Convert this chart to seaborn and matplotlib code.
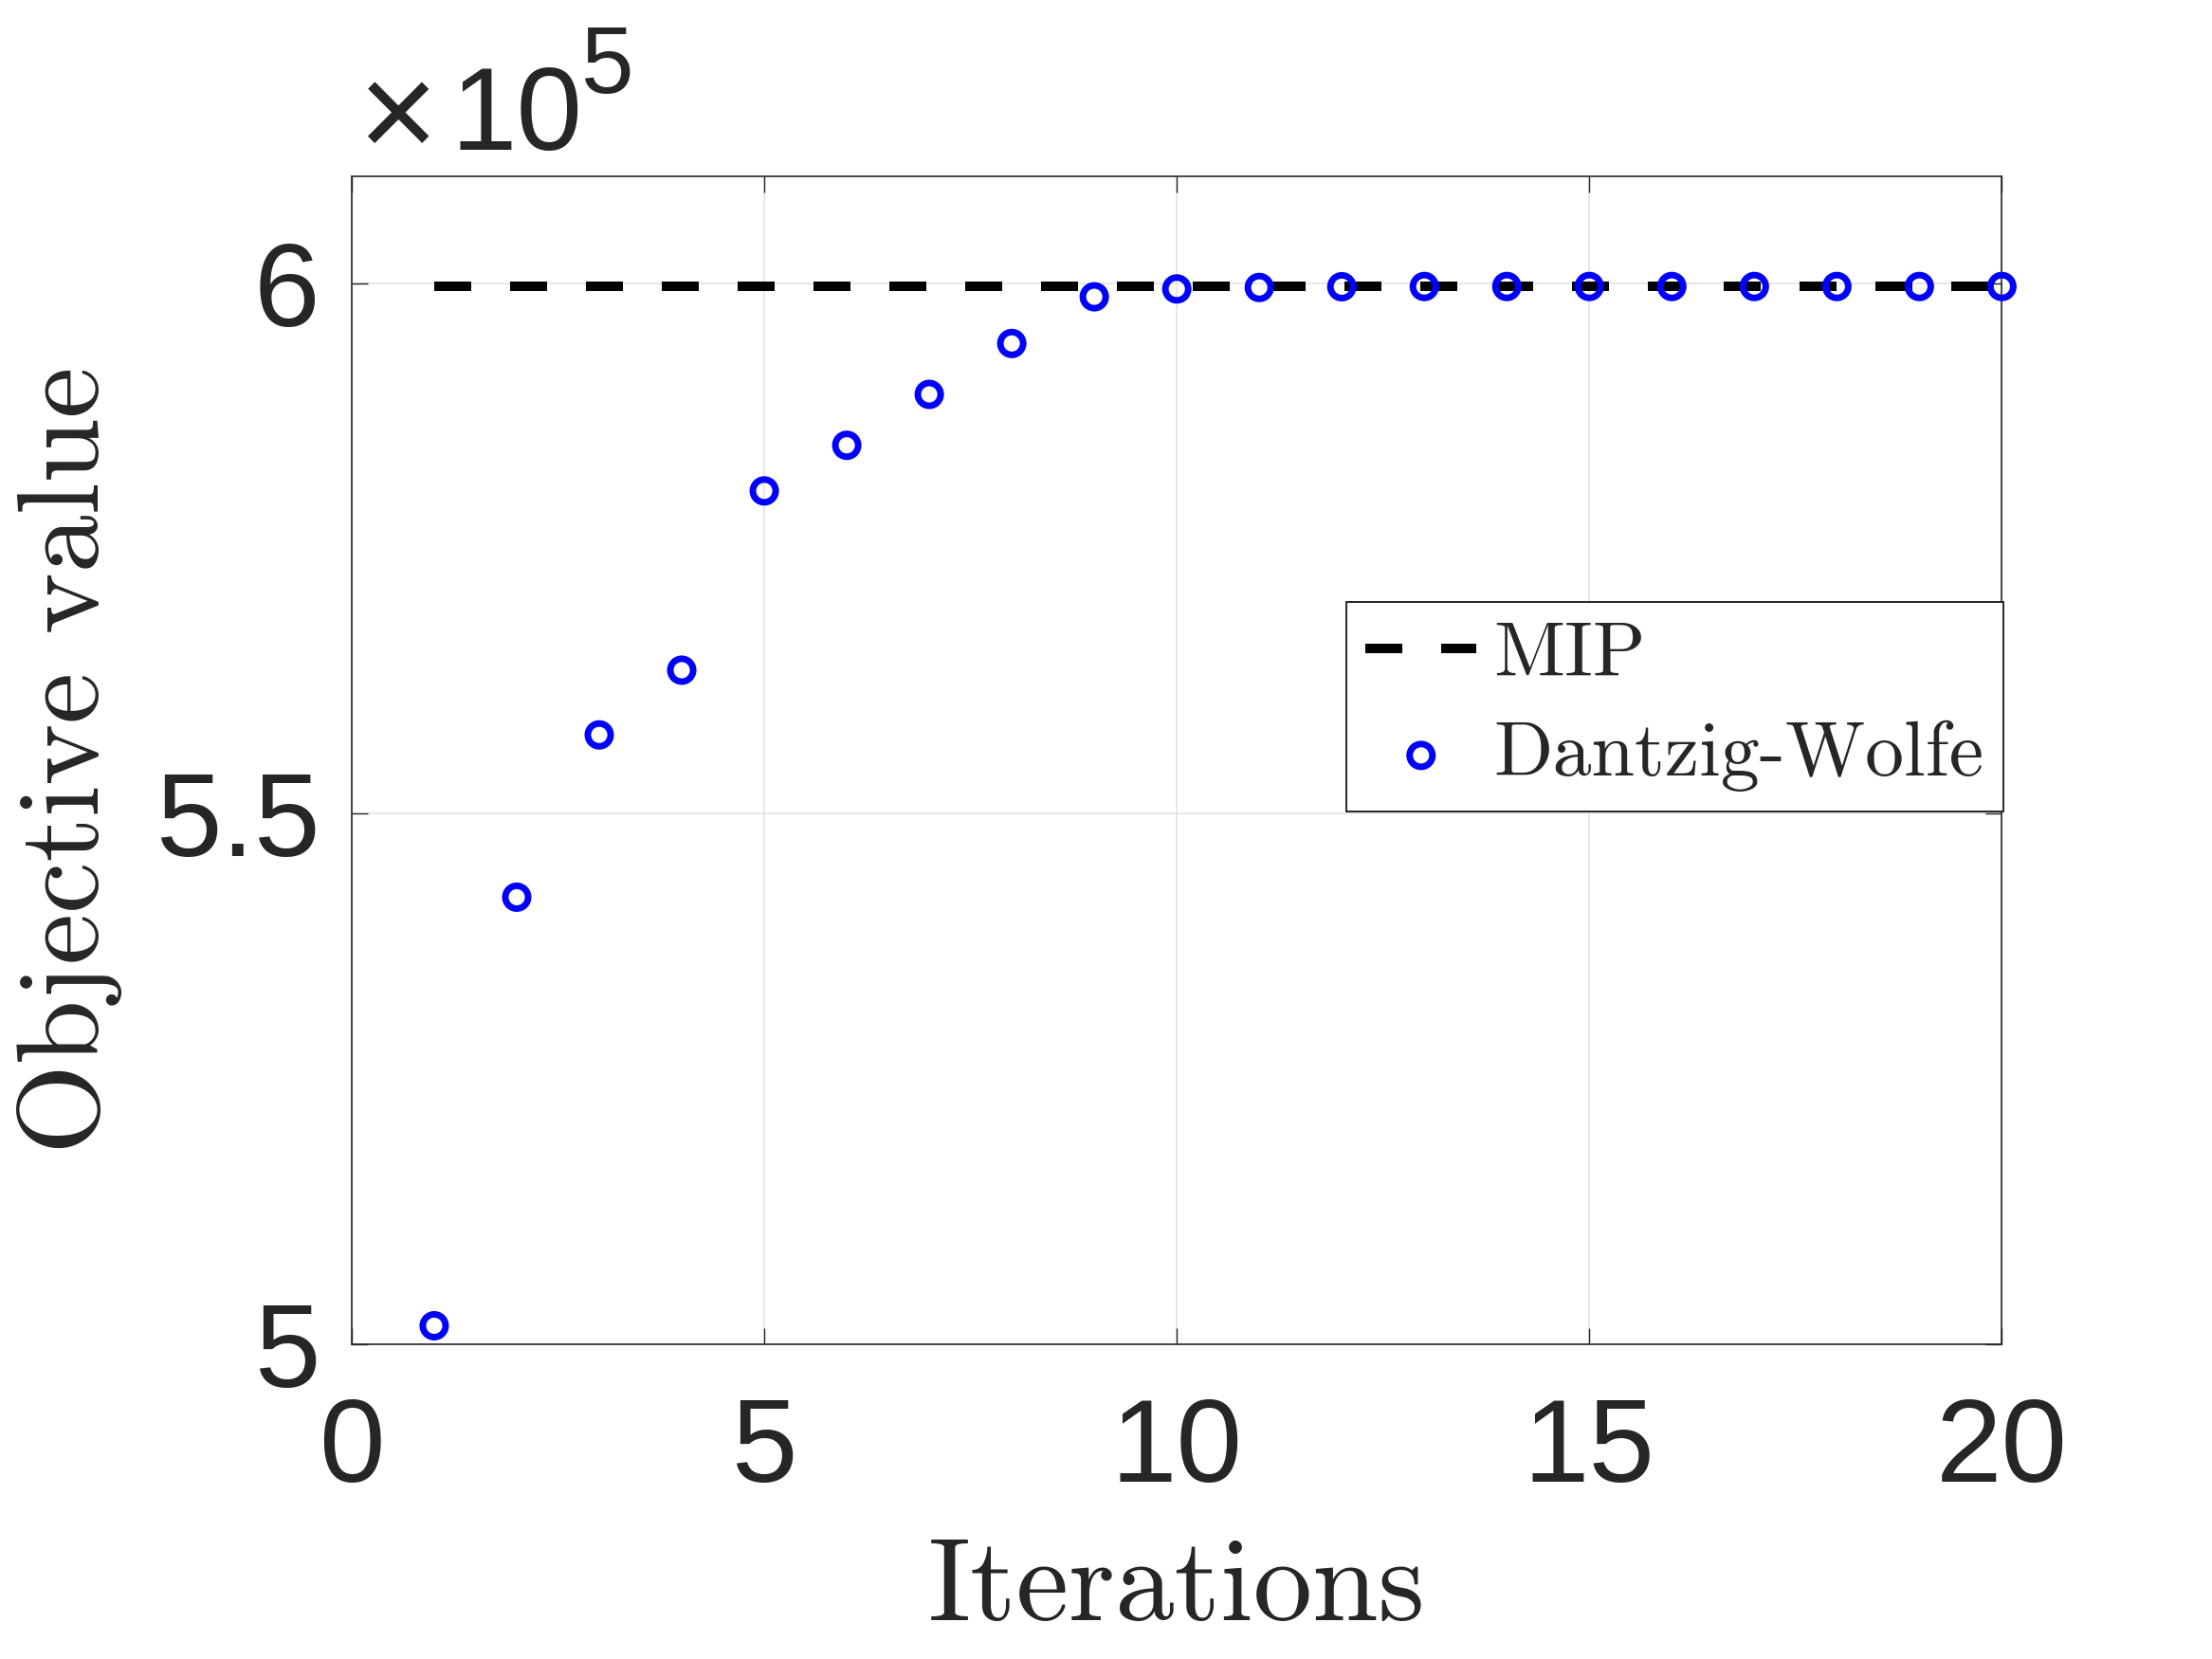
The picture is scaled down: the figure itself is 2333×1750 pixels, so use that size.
import matplotlib
matplotlib.use("Agg")
import matplotlib.pyplot as plt
import matplotlib.ticker as mticker
import seaborn as sns
import pandas as pd

# data (objective values)
iterations = [1, 2, 3, 4, 5, 6, 7, 8, 9, 10, 11, 12, 13, 14, 15, 16, 17, 18, 19, 20]
dw_values = [501700, 542100, 557400, 563500, 580400, 584700, 589500, 594300,
             598700, 599440, 599580, 599650, 599670, 599670, 599670, 599670,
             599670, 599670, 599670, 599670]
mip_value = 599670
mip_values = [mip_value] * len(iterations)

x_ticks = [0, 5, 10, 15, 20]
y_ticks = [500000, 550000, 600000]

df = pd.DataFrame({"Iteration": iterations, "DW": dw_values, "MIP": mip_values})

sns.set_theme(style="whitegrid")
plt.rcParams["font.family"] = ["Liberation Sans", "DejaVu Sans"]

ink = "#262626"
serif = "cmr10"

fig = plt.figure(figsize=(11.665, 8.75), dpi=200)
ax = fig.add_axes([0.159, 0.190, 0.746, 0.704])
ax.set_facecolor("white")

sns.lineplot(data=df, x="Iteration", y="MIP", ax=ax, color="black",
             linewidth=3.6, linestyle=(0, (3.9, 4.1)), label="MIP", zorder=3)
sns.scatterplot(data=df, x="Iteration", y="DW", ax=ax, marker="o", s=75,
                facecolor="none", edgecolor="#0000ff", linewidth=2.5,
                label="Dantzig-Wolfe", zorder=4, clip_on=False)

ax.set_xlim(0, 20)
ax.set_ylim(500000, 610100)
ax.set_xticks(x_ticks)
ax.set_yticks(y_ticks)
ax.yaxis.set_major_formatter(mticker.FuncFormatter(lambda v, p: "%g" % (v / 1e5)))

ax.grid(True, color="#e3e3e3", linewidth=0.6)
for sp in ax.spines.values():
    sp.set_visible(True)
    sp.set_color(ink)
    sp.set_linewidth(0.6)

ax.tick_params(axis="both", which="major", direction="in", length=6, width=0.5,
               colors=ink, labelsize=45, top=True, right=True,
               bottom=True, left=True)
ax.tick_params(axis="x", pad=20)
ax.tick_params(axis="y", pad=12)

# exponent label, MATLAB style
ax.text(0.004, 1.015, "\u00d7", transform=ax.transAxes,
        fontsize=52, color=ink, ha="left", va="baseline")
ax.text(0.060, 1.022, "10", transform=ax.transAxes,
        fontsize=45, color=ink, ha="left", va="baseline")
ax.text(0.139, 1.0714, "5", transform=ax.transAxes,
        fontsize=36, color=ink, ha="left", va="baseline")

ax.set_xlabel("Iterations", fontfamily=serif, fontsize=45, color=ink)
ax.set_ylabel("Objective value", fontfamily=serif, fontsize=44, color=ink)
ax.xaxis.set_label_coords(0.5, -0.166)
ax.yaxis.set_label_coords(-0.139, 0.5)

leg = ax.legend(loc="upper right", bbox_to_anchor=(0.9057, 0.6371),
                bbox_transform=fig.transFigure, frameon=True, fancybox=False,
                prop={"family": serif, "size": 29.5}, handlelength=1.43,
                handletextpad=0.22, borderpad=0.25, labelspacing=0.38,
                borderaxespad=0)
leg.get_frame().set_edgecolor(ink)
leg.get_frame().set_linewidth(0.7)
leg.get_frame().set_alpha(1)

fig.savefig("out.png", dpi=200, facecolor="white")
